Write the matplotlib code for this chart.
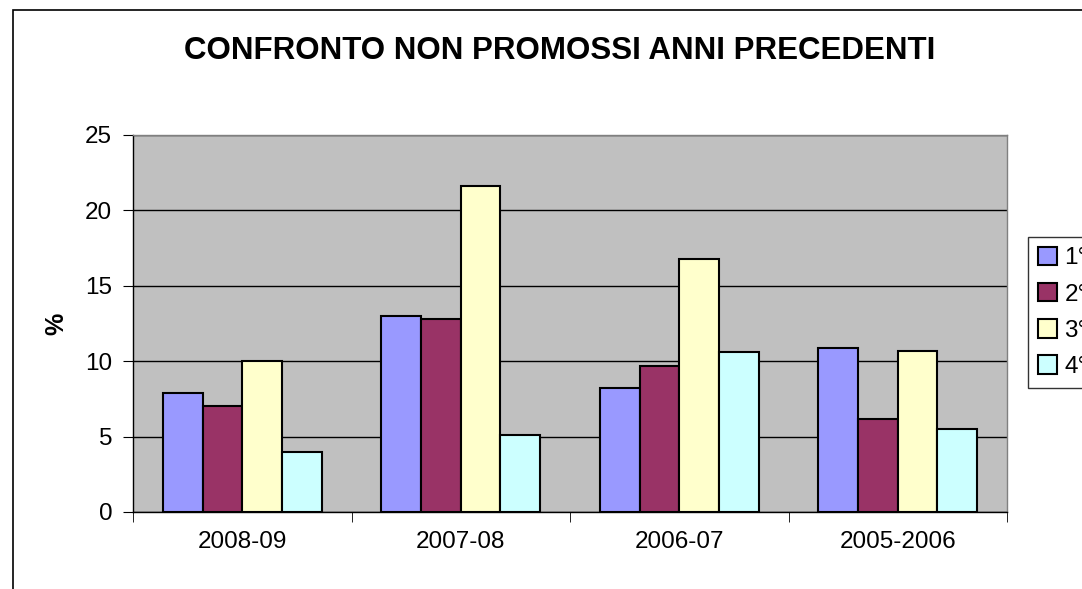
import numpy as np
import matplotlib.pyplot as plt
from matplotlib.patches import Rectangle

plt.rcParams['font.family'] = ['Liberation Sans', 'DejaVu Sans']

# data
categories = ["2008-09", "2007-08", "2006-07", "2005-2006"]
series_names = ["1°", "2°", "3°", "4°"]
primo = [7.9, 13.0, 8.2, 10.9]
secondo = [7.0, 12.8, 9.7, 6.2]
terzo = [10.0, 21.6, 16.8, 10.7]
quarto = [4.0, 5.1, 10.6, 5.5]
colours = ["#9999FF", "#993366", "#FFFFCC", "#CCFFFF"]

W, H = 1082, 589
fig = plt.figure(figsize=(W / 100, H / 100), dpi=100)
fig.patch.set_facecolor("white")

# outer chart-area border (runs off right/bottom edge)
fig.patches.append(Rectangle((13 / W, -0.1), 1.2, 1 - 10 / H + 0.1,
                             transform=fig.transFigure, fill=False,
                             edgecolor="black", linewidth=1.2))

ax = fig.add_axes([133 / W, 1 - 512 / H, (1007 - 133) / W, (512 - 135) / H])
ax.set_facecolor("#C0C0C0")

x = np.arange(len(categories))
bw = 1 / 5.5
for i, vals in enumerate([primo, secondo, terzo, quarto]):
    ax.bar(x + (i - 1.5) * bw, vals, bw, color=colours[i], edgecolor="black",
           linewidth=1.5, label=series_names[i], zorder=3)

ax.set_xlim(-0.5, len(categories) - 0.5)
ax.set_ylim(0, 25)
ax.set_yticks(np.arange(0, 26, 5))
ax.yaxis.grid(True, color="black", linewidth=1, zorder=1)
ax.set_axisbelow(True)

ax.set_xticks(x)
ax.set_xticklabels(categories, fontsize=17.5)
ax.set_xticks(np.arange(-0.5, len(categories), 1), minor=True)
ax.tick_params(axis="x", which="major", length=0, pad=14)
ax.tick_params(axis="x", which="minor", length=7, direction="out", color="black")
ax.tick_params(axis="y", length=7, direction="out", labelsize=17.5, pad=8)

for s in ["left", "bottom"]:
    ax.spines[s].set_color("black")
    ax.spines[s].set_linewidth(1)
for s in ["top", "right"]:
    ax.spines[s].set_color("#808080")
    ax.spines[s].set_linewidth(1)

ax.set_ylabel("%", fontsize=18, fontweight="bold", labelpad=12)

fig.text(560 / W, 1 - 51 / H, "CONFRONTO NON PROMOSSI ANNI PRECEDENTI",
         ha="center", va="center", fontsize=22.5, fontweight="bold")

leg = ax.legend(loc="upper left", bbox_to_anchor=(1028 / W, 1 - 237 / H),
                bbox_transform=fig.transFigure, fontsize=17.5, frameon=True,
                fancybox=False, edgecolor="black", handlelength=0.8,
                handleheight=0.8, handletextpad=0.3, labelspacing=0.55,
                borderpad=0.4, borderaxespad=0)
leg.get_frame().set_linewidth(1)

fig.savefig("out.png", dpi=100)
